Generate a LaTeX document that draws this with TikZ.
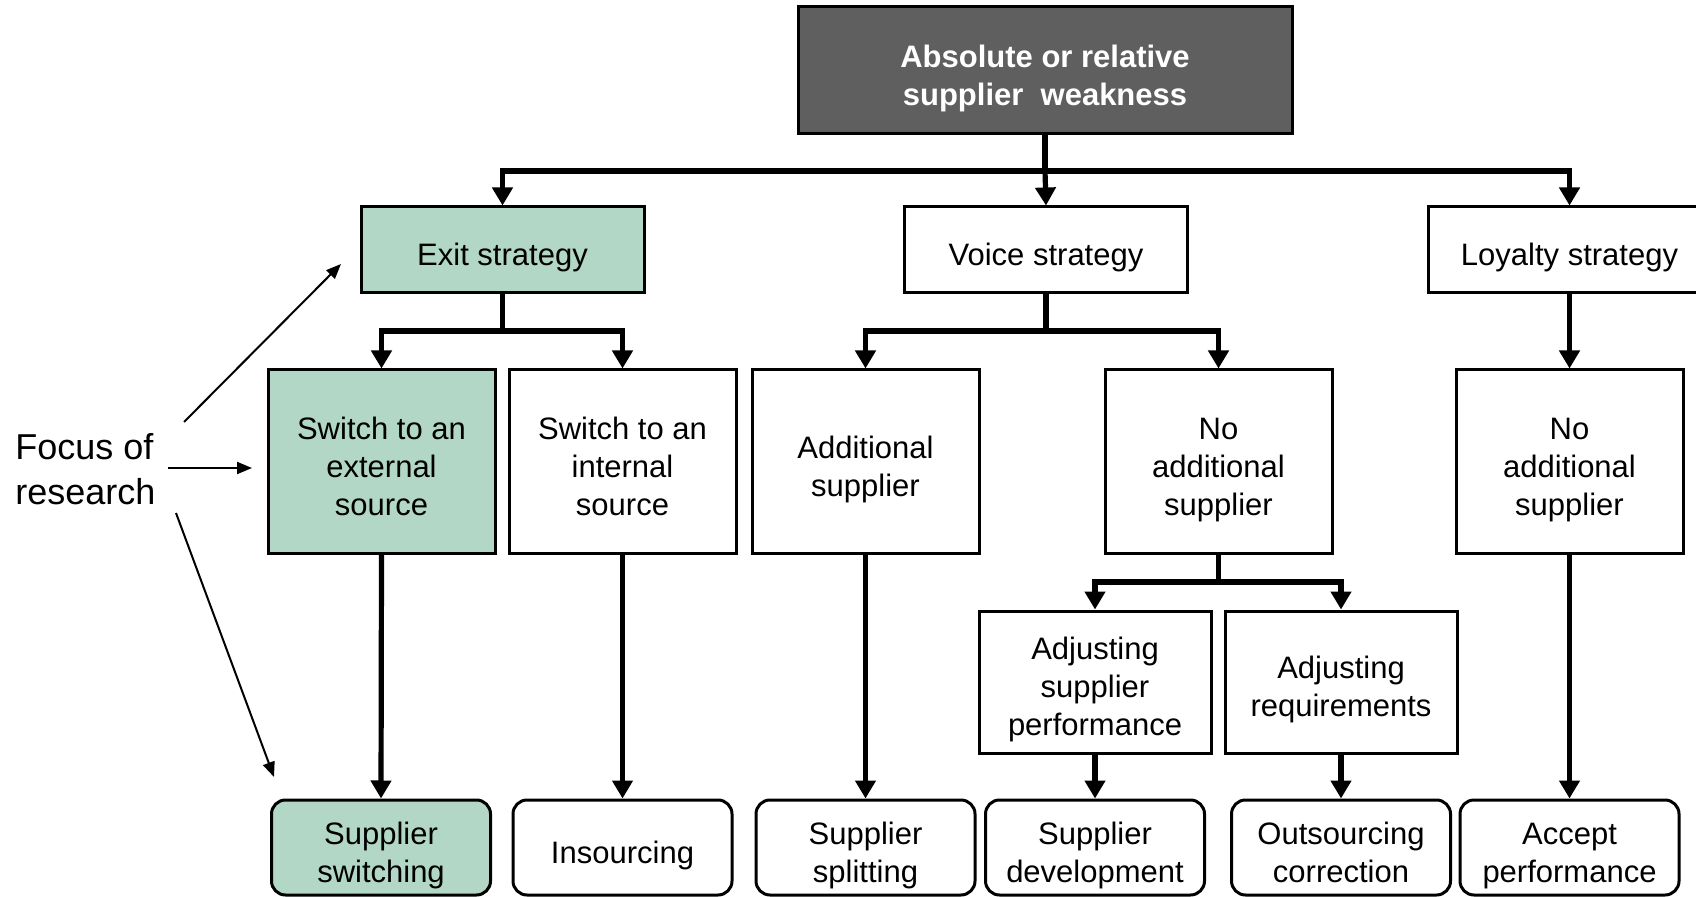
\documentclass[tikz,border=0pt]{standalone}
\usepackage{fontspec}
\setmainfont{Liberation Sans}
\usetikzlibrary{arrows.meta}
\definecolor{focusgreen}{HTML}{B2D7C6}
\definecolor{topgray}{HTML}{5F5F5F}
\newcommand\myrtop{\rule{0pt}{19.2pt}}
\newcommand\myrbot{\rule[-3.4pt]{0pt}{0pt}}
\begin{document}
\begin{tikzpicture}[x=0.5pt,y=-0.5pt,
  box/.style={draw=black, line width=1.5pt, fill=white, inner sep=0pt, align=center,
    font=\fontsize{15.5}{19}\selectfont},
  stratbox/.style={box, minimum width=141.5pt, minimum height=43pt},
  midbox/.style={box, minimum width=113.5pt, minimum height=91.5pt},
  adjbox/.style={box, minimum width=116pt, minimum height=71pt},
  endbox/.style={box, rounded corners=7pt, minimum width=109.5pt, minimum height=47.5pt},
  focusfill/.style={fill=focusgreen},
  link/.style={line width=2.6pt, draw=black},
  arr/.style={link, -{Triangle[length=9pt,width=10pt]}},
  thinarr/.style={line width=1pt, -{Triangle[length=7.5pt,width=6pt]}}
]
\useasboundingbox (0,0) rectangle (1696,897);

% top
\node[box, fill=topgray, text=white, minimum width=247pt, minimum height=63.5pt,
  font=\fontsize{15.5}{19}\selectfont\bfseries] (top) at (1045,70.5)
  {\myrtop Absolute or relative\\supplier\ \ weakness\myrbot};

% strategies
\node[stratbox, focusfill] (exit) at (502.5,250) {\myrtop Exit strategy\myrbot};
\node[stratbox] (voice) at (1046,250) {\myrtop Voice strategy\myrbot};
\node[stratbox] (loyal) at (1569.5,250) {\myrtop Loyalty strategy\myrbot};

% second row
\node[midbox, focusfill] (ext) at (381.5,461.5) {\myrtop Switch to an\\external\\source\myrbot};
\node[midbox] (int) at (622.5,461.5) {\myrtop Switch to an\\internal\\source\myrbot};
\node[midbox] (add) at (865.5,461.5) {\myrtop Additional\\supplier\myrbot};
\node[midbox] (noadd) at (1218.5,461.5) {\myrtop No\\additional\\supplier\myrbot};
\node[midbox] (loyno) at (1569.5,461.5) {\myrtop No\\additional\\supplier\myrbot};

% third row
\node[adjbox] (asp) at (1095,682) {\myrtop Adjusting\\supplier\\performance\myrbot};
\node[adjbox] (areq) at (1341,682) {\myrtop Adjusting\\requirements\myrbot};

% outcomes
\node[endbox, focusfill] (ss) at (381,847.5) {\myrtop Supplier\\switching\myrbot};
\node[endbox] (ins) at (622.5,847.5) {\myrtop Insourcing\myrbot};
\node[endbox] (spl) at (865.5,847.5) {\myrtop Supplier\\splitting\myrbot};
\node[endbox] (dev) at (1095,847.5) {\myrtop Supplier\\development\myrbot};
\node[endbox] (outc) at (1341,847.5) {\myrtop Outsourcing\\correction\myrbot};
\node[endbox] (acc) at (1569.5,847.5) {\myrtop Accept\\performance\myrbot};

% bus coordinates
\coordinate (b1) at (1045,171);
\coordinate (b2) at (502.5,331);
\coordinate (b3) at (1046,331);
\coordinate (b4) at (1218.5,582);

\draw[link] (top.south) -- (b1);
\draw[arr] (b1) -| (exit.north);
\draw[arr] (b1) -| (loyal.north);
\draw[arr] (b1) -- (voice.north);

\draw[link] (exit.south) -- (b2);
\draw[arr] (b2) -| (ext.north);
\draw[arr] (b2) -| (int.north);

\draw[link] (voice.south) -- (b3);
\draw[arr] (b3) -| (add.north);
\draw[arr] (b3) -| (noadd.north);

\draw[arr] (loyal.south) -- (loyno.north);

\draw[link] (noadd.south) -- (b4);
\draw[arr] (b4) -| (asp.north);
\draw[arr] (b4) -| (areq.north);

\draw[arr] (ext.south) -- (ss.north);
\draw[arr] (int.south) -- (ins.north);
\draw[arr] (add.south) -- (spl.north);
\draw[arr] (asp.south) -- (dev.north);
\draw[arr] (areq.south) -- (outc.north);
\draw[arr] (loyno.south) -- (acc.north);

% focus of research
\node[anchor=west, align=left, inner sep=0pt, font=\fontsize{18}{22.5}\selectfont]
  (focus) at (15,469) {Focus of\\research};
\coordinate (f1s) at (184,422);
\coordinate (f1e) at (341,264);
\coordinate (f2s) at (168,468);
\coordinate (f2e) at (252,468);
\coordinate (f3s) at (176,513);
\coordinate (f3e) at (274,777);
\draw[thinarr] (f1s) -- (f1e);
\draw[thinarr] (f2s) -- (f2e);
\draw[thinarr] (f3s) -- (f3e);
\end{tikzpicture}
\end{document}
